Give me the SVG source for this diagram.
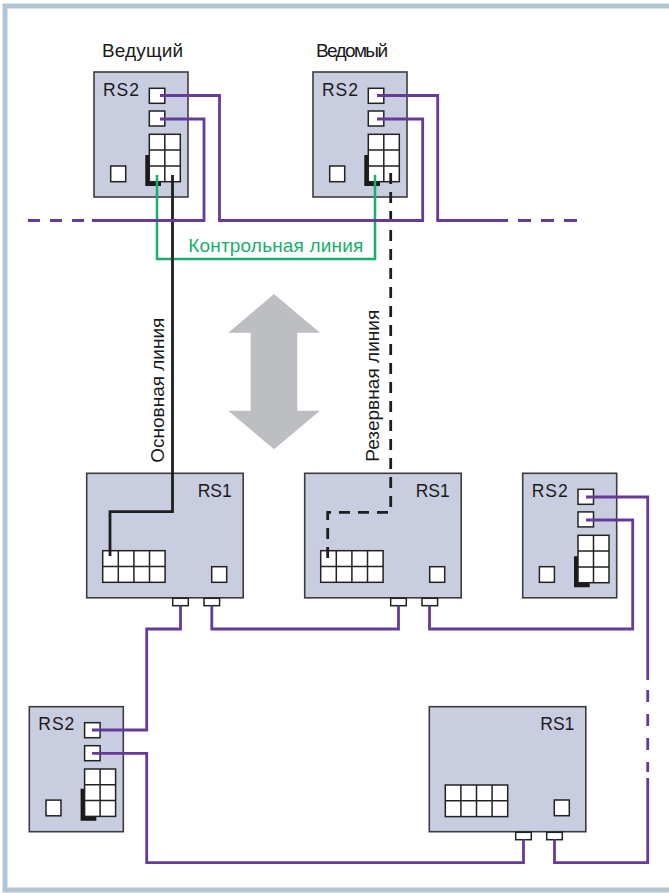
<svg xmlns="http://www.w3.org/2000/svg" width="669" height="893" viewBox="0 0 669 893">
<style>
.box{fill:#c9cde0;stroke:#3c3c3c;stroke-width:1.6}
.sq{fill:#fff;stroke:#222;stroke-width:1.5}
.gl{fill:none;stroke:#222;stroke-width:1.5}
.L{fill:#1a1a1a}
.pur{fill:none;stroke:#663a9c;stroke-width:2.8}
.grn{fill:none;stroke:#17b06b;stroke-width:2.5}
.blk{fill:none;stroke:#1e1e1e;stroke-width:2.8}
.rs{font-family:"Liberation Sans",Arial,sans-serif;font-size:17.5px;fill:#1a1a1a}
.lbl{font-family:"Liberation Sans",Arial,sans-serif;font-size:19px;fill:#1a1a1a}
</style>
<rect x="5" y="6" width="680" height="884" fill="#fff" stroke="#b2c5d4" stroke-width="5"/>

<g id="labels">
<text class="lbl" x="102" y="57" textLength="81" lengthAdjust="spacing">Ведущий</text>
<text class="lbl" x="316" y="57" textLength="72" lengthAdjust="spacing">Ведомый</text>
<text class="lbl" x="188.3" y="252.3" textLength="175" lengthAdjust="spacing" style="fill:#17b06b">Контрольная линия</text>
<text class="lbl" transform="translate(163.5,462.7) rotate(-90)" textLength="145" lengthAdjust="spacing">Основная линия</text>
<text class="lbl" transform="translate(379,461.7) rotate(-90)" textLength="152" lengthAdjust="spacing">Резервная линия</text>
</g>

<g id="arrow">
<polygon points="274,294 320,332.7 297.3,332.7 297.3,410.7 320,410.7 274,449.3 228.3,410.7 250.7,410.7 250.7,332.7 228.3,332.7" fill="#bdbec2"/>
</g>

<g id="master-rs2" transform="translate(94,72)">
<rect class="box" width="94" height="125"/>
<text class="rs" x="9" y="23.7" textLength="36" lengthAdjust="spacing">RS2</text>
<rect class="sq" x="55.3" y="16.3" width="15.5" height="15"/>
<rect class="sq" x="55.3" y="39" width="15.5" height="15"/>
<path class="L" d="M51.3 83H56.7V108H67V114H51.3Z"/>
<rect class="sq" x="55.3" y="62.3" width="31" height="47.4"/>
<path class="gl" d="M70.8 62.3V109.7M55.3 78.1H86.3M55.3 93.9H86.3"/>
<rect class="sq" x="16.7" y="94" width="15" height="15.7"/>
</g>

<g id="slave-rs2" transform="translate(313,72)">
<rect class="box" width="94" height="125"/>
<text class="rs" x="9" y="23.7" textLength="36" lengthAdjust="spacing">RS2</text>
<rect class="sq" x="55.3" y="16.3" width="15.5" height="15"/>
<rect class="sq" x="55.3" y="39" width="15.5" height="15"/>
<path class="L" d="M51.3 83H56.7V108H67V114H51.3Z"/>
<rect class="sq" x="55.3" y="62.3" width="31" height="47.4"/>
<path class="gl" d="M70.8 62.3V109.7M55.3 78.1H86.3M55.3 93.9H86.3"/>
<rect class="sq" x="16.7" y="94" width="15" height="15.7"/>
</g>

<g id="right-rs2" transform="translate(522.7,473.3)">
<rect class="box" width="94" height="124.5"/>
<text class="rs" x="9" y="23.4" textLength="36" lengthAdjust="spacing">RS2</text>
<rect class="sq" x="55.3" y="16" width="15.5" height="15"/>
<rect class="sq" x="55.3" y="38.6" width="15.5" height="15"/>
<path class="L" d="M51.3 83H56.7V108H67V114H51.3Z"/>
<rect class="sq" x="55.3" y="62" width="31" height="47.4"/>
<path class="gl" d="M70.8 62V109.4M55.3 77.8H86.3M55.3 93.6H86.3"/>
<rect class="sq" x="16.7" y="93.4" width="15" height="15.6"/>
</g>

<g id="lower-rs2" transform="translate(29.3,706.7)">
<rect class="box" width="94" height="125"/>
<text class="rs" x="9" y="23" textLength="36" lengthAdjust="spacing">RS2</text>
<rect class="sq" x="55.3" y="16" width="15.5" height="15"/>
<rect class="sq" x="55.3" y="39" width="15.5" height="15"/>
<path class="L" d="M51.3 82H56.7V108H67V114H51.3Z"/>
<rect class="sq" x="55.3" y="62.3" width="31" height="47.4"/>
<path class="gl" d="M70.8 62.3V109.7M55.3 78.1H86.3M55.3 93.9H86.3"/>
<rect class="sq" x="16.7" y="93.4" width="15" height="15.7"/>
</g>

<g id="left-rs1" transform="translate(86.7,473.3)">
<rect class="box" width="156.5" height="124.5"/>
<text class="rs" x="145" y="23.4" text-anchor="end">RS1</text>
<rect class="sq" x="16" y="77.4" width="62.4" height="31.6"/>
<path class="gl" d="M31.6 77.4V109M47.2 77.4V109M62.8 77.4V109M16 93.2H78.4"/>
<rect class="sq" x="125" y="93.4" width="15" height="15.6"/>
<rect class="sq" x="86" y="125" width="15.6" height="7.4"/>
<rect class="sq" x="117.3" y="125" width="15.6" height="7.4"/>
</g>

<g id="middle-rs1" transform="translate(304.7,473.3)">
<rect class="box" width="156.5" height="124.5"/>
<text class="rs" x="145" y="23.4" text-anchor="end">RS1</text>
<rect class="sq" x="16" y="77.4" width="62.4" height="31.6"/>
<path class="gl" d="M31.6 77.4V109M47.2 77.4V109M62.8 77.4V109M16 93.2H78.4"/>
<rect class="sq" x="125" y="93.4" width="15" height="15.6"/>
<rect class="sq" x="86" y="125" width="15.6" height="7.4"/>
<rect class="sq" x="117.3" y="125" width="15.6" height="7.4"/>
</g>

<g id="bottom-rs1" transform="translate(429.3,706.7)">
<rect class="box" width="156.5" height="125"/>
<text class="rs" x="145" y="23.3" text-anchor="end">RS1</text>
<rect class="sq" x="16" y="78.3" width="62.4" height="31.6"/>
<path class="gl" d="M31.6 78.3V109.9M47.2 78.3V109.9M62.8 78.3V109.9M16 94.1H78.4"/>
<rect class="sq" x="125" y="93.3" width="15" height="15.7"/>
<rect class="sq" x="86.4" y="125.6" width="15.6" height="7.4"/>
<rect class="sq" x="117.4" y="125.6" width="15.6" height="7.4"/>
</g>

<g id="connectors">
<path class="grn" d="M157 175V259H375V175"/>
<path class="blk" d="M172.5 175V511.7H110V556"/>
<path class="blk" d="M390.7 173V512.3H327.7V558" stroke-dasharray="11 8"/>
<path class="pur" d="M160 95.5H219.5V220.5H422.7V119H377"/>
<path class="pur" d="M160 119H204V220.5H92"/>
<path class="pur" d="M377 95.5H437.7V220.5H508"/>
<path class="pur" d="M28 220.5H84" stroke-dasharray="12 10"/>
<path class="pur" d="M518 220.5H580" stroke-dasharray="13 10"/>
<path class="pur" d="M180.5 605.7V629H146.7V730H92"/>
<path class="pur" d="M211.8 605.7V629H398.5V605.7"/>
<path class="pur" d="M429.5 605.7V629H632.7V520H586"/>
<path class="pur" d="M586 497H647.7V680"/>
<path class="pur" d="M647.7 690V772" stroke-dasharray="12 12"/>
<path class="pur" d="M647.7 778V862.7H554.5V839.3"/>
<path class="pur" d="M523.5 839.3V862.7H146.7V753.3H92"/>
</g>
</svg>
